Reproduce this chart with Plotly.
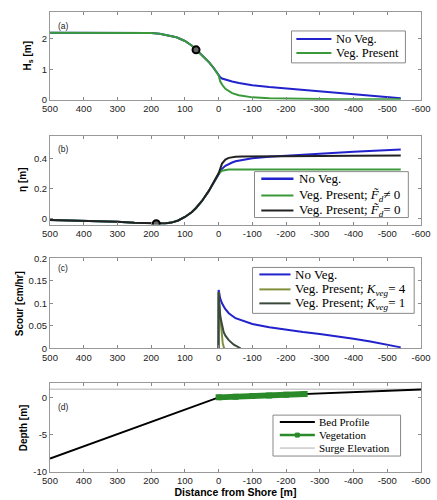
import plotly.graph_objects as go

# ---------------- data ----------------
x_ticks = [500, 400, 300, 200, 100, 0, -100, -200, -300, -400, -500, -600]
x_tick_labels = ["500", "400", "300", "200", "100", "0", "-100", "-200", "-300", "-400", "-500", "-600"]

# (a) significant wave height
x_hs = [500, 400, 300, 250, 200, 175, 150, 125, 100, 80, 67, 50, 30, 15, 0,
        -5, -10, -20, -30, -40, -60, -80, -100, -150, -200, -250, -300, -350, -400, -450, -500, -540]
hs_noveg = [2.2, 2.2, 2.2, 2.2, 2.19, 2.17, 2.12, 2.05, 1.93, 1.78, 1.65, 1.48, 1.25, 1.05, 0.8,
            0.74, 0.7, 0.66, 0.63, 0.6, 0.55, 0.51, 0.48, 0.42, 0.37, 0.32, 0.27, 0.22, 0.17, 0.12, 0.07, 0.05]
hs_veg = [2.2, 2.2, 2.2, 2.2, 2.19, 2.17, 2.12, 2.05, 1.93, 1.78, 1.65, 1.48, 1.25, 1.05, 0.8,
          0.6, 0.5, 0.36, 0.28, 0.22, 0.15, 0.11, 0.08, 0.05, 0.035, 0.03, 0.025, 0.022, 0.02, 0.02, 0.02, 0.02]
hs_mark_x = [67]
hs_mark_y = [1.64]

# (b) setup / mean water level
x_eta = [500, 400, 300, 250, 200, 185, 160, 140, 120, 100, 80, 67, 50, 30, 15, 0,
         -10, -20, -30, -40, -50, -70, -100, -150, -200, -300, -400, -540]
eta_noveg = [-0.01, -0.015, -0.022, -0.028, -0.033, -0.034, -0.033, -0.027, -0.013, 0.01, 0.042, 0.07, 0.115, 0.18, 0.24, 0.3,
             0.33, 0.35, 0.362, 0.372, 0.38, 0.39, 0.4, 0.41, 0.418, 0.43, 0.443, 0.458]
eta_veg_fd = [-0.01, -0.015, -0.022, -0.028, -0.033, -0.034, -0.033, -0.027, -0.013, 0.01, 0.042, 0.07, 0.115, 0.18, 0.24, 0.3,
              0.318, 0.323, 0.325, 0.325, 0.325, 0.325, 0.325, 0.325, 0.325, 0.325, 0.325, 0.325]
eta_veg_f0 = [-0.01, -0.015, -0.022, -0.028, -0.033, -0.034, -0.033, -0.027, -0.013, 0.01, 0.042, 0.07, 0.115, 0.18, 0.24, 0.3,
              0.365, 0.392, 0.403, 0.407, 0.41, 0.412, 0.413, 0.414, 0.415, 0.416, 0.417, 0.418]
eta_mark_x = [185]
eta_mark_y = [-0.034]

# (c) scour rate
x_sc_noveg = [0.5, 0, -5, -10, -19, -30, -50, -75, -100, -150, -200, -250, -300, -350, -400, -450, -500, -540]
sc_noveg = [0, 0.13, 0.11, 0.1, 0.088, 0.078, 0.067, 0.06, 0.054, 0.047, 0.041, 0.036, 0.032, 0.027, 0.021, 0.015, 0.008, 0.002]
x_sc_k4 = [0.5, 0, -3, -6, -9, -12, -15, -17]
sc_k4 = [0, 0.125, 0.085, 0.055, 0.03, 0.012, 0.003, 0]
x_sc_k1 = [0.5, 0, -2, -5, -10, -15, -20, -30, -45, -60, -65]
sc_k1 = [0, 0.125, 0.1, 0.07, 0.05, 0.036, 0.028, 0.018, 0.008, 0.002, 0]

# (d) profile
x_bed = [500, 0, -600]
bed = [-8.2, 0, 1.05]
x_vegzone = [0, -50, -100, -150, -200, -255]
vegzone = [0, 0.0875, 0.175, 0.2625, 0.35, 0.446]
x_surge = [500, -600]
surge = [1.1, 1.1]

# ---------------- colours ----------------
BLUE = "#2222cc"
GREEN = "#3a9a3a"
BLACK = "#222222"
OLIVE = "#808f3c"
DARK = "#3a4a3a"
VEG = "#2a8a2a"
GRAY = "#b0b0b0"

# ---------------- geometry (pixels) ----------------
W, H = 437, 500
L, R, T, B = 50, 6, 11, 28
PW = W - L - R
PH = H - T - B
rows_px = [(11, 99), (135, 224), (258, 348), (383, 472)]


def py2paper(py):
    return (H - B - py) / PH


def px2paper(px):
    return (px - L) / PW


fig = go.Figure()

# (a)
fig.add_trace(go.Scatter(x=x_hs, y=hs_noveg, mode="lines", line=dict(color=BLUE, width=2),
                         xaxis="x", yaxis="y", showlegend=False))
fig.add_trace(go.Scatter(x=x_hs, y=hs_veg, mode="lines", line=dict(color=GREEN, width=2),
                         xaxis="x", yaxis="y", showlegend=False))
fig.add_trace(go.Scatter(x=hs_mark_x, y=hs_mark_y, mode="markers",
                         marker=dict(symbol="circle", size=7, color="#666666", line=dict(color="black", width=2)),
                         xaxis="x", yaxis="y", showlegend=False))
# (b)
fig.add_trace(go.Scatter(x=x_eta, y=eta_noveg, mode="lines", line=dict(color=BLUE, width=2),
                         xaxis="x2", yaxis="y2", showlegend=False))
fig.add_trace(go.Scatter(x=x_eta, y=eta_veg_fd, mode="lines", line=dict(color=GREEN, width=2),
                         xaxis="x2", yaxis="y2", showlegend=False))
fig.add_trace(go.Scatter(x=x_eta, y=eta_veg_f0, mode="lines", line=dict(color=BLACK, width=2),
                         xaxis="x2", yaxis="y2", showlegend=False))
fig.add_trace(go.Scatter(x=eta_mark_x, y=eta_mark_y, mode="markers",
                         marker=dict(symbol="circle", size=7, color="#666666", line=dict(color="black", width=2)),
                         xaxis="x2", yaxis="y2", showlegend=False))
# (c)
fig.add_trace(go.Scatter(x=x_sc_noveg, y=sc_noveg, mode="lines", line=dict(color=BLUE, width=2),
                         xaxis="x3", yaxis="y3", showlegend=False))
fig.add_trace(go.Scatter(x=x_sc_k4, y=sc_k4, mode="lines", line=dict(color=OLIVE, width=2),
                         xaxis="x3", yaxis="y3", showlegend=False))
fig.add_trace(go.Scatter(x=x_sc_k1, y=sc_k1, mode="lines", line=dict(color=DARK, width=2),
                         xaxis="x3", yaxis="y3", showlegend=False))
# (d)
fig.add_trace(go.Scatter(x=x_surge, y=surge, mode="lines", line=dict(color=GRAY, width=1),
                         xaxis="x4", yaxis="y4", showlegend=False))
fig.add_trace(go.Scatter(x=x_bed, y=bed, mode="lines", line=dict(color="black", width=2),
                         xaxis="x4", yaxis="y4", showlegend=False))
fig.add_trace(go.Scatter(x=x_vegzone, y=vegzone, mode="lines+markers", line=dict(color=VEG, width=6),
                         marker=dict(symbol="square", size=6, color=VEG),
                         xaxis="x4", yaxis="y4", showlegend=False))

tickfont = dict(family="Liberation Sans, Arial, sans-serif", size=9.5, color="#222")
titlefont = dict(family="Liberation Sans, Arial, sans-serif", size=10, color="black", weight="bold")

axis_common = dict(range=[500, -600], tickvals=x_ticks, ticktext=x_tick_labels, ticks="inside", ticklen=3,
                   tickcolor="#888", showline=True, linecolor="#999", linewidth=1, mirror="ticks",
                   showgrid=False, zeroline=False, tickfont=tickfont, ticklabeloverflow="allow")

y_specs = [
    dict(range=[0, 2.88], tickvals=[0, 1, 2], ticktext=["0", "1", "2"], title="H<sub>s</sub> [m]", tx=27),
    dict(range=[-0.04, 0.55], tickvals=[0, 0.2, 0.4], ticktext=["0", "0.2", "0.4"], title="η [m]", tx=21),
    dict(range=[0, 0.2], tickvals=[0, 0.05, 0.1, 0.15, 0.2], ticktext=["0", "0.05", "0.1", "0.15", "0.2"],
         title="Scour [cm/hr]", tx=19),
    dict(range=[-10, 1.9], tickvals=[-10, -5, 0], ticktext=["-10", "-5", "0"], title="Depth [m]", tx=23),
]

layout = dict(width=W, height=H, margin=dict(l=L, r=R, t=T, b=B), paper_bgcolor="white",
              plot_bgcolor="white", showlegend=False)

for i, (top, bot) in enumerate(rows_px):
    n = "" if i == 0 else str(i + 1)
    xa = dict(axis_common)
    xa["anchor"] = "y" + n
    xa["domain"] = [0, 1]
    if i == 3:
        xa["title"] = dict(text="Distance from Shore [m]", font=dict(titlefont, size=10.5), standoff=0)
    layout["xaxis" + n] = xa
    s = y_specs[i]
    layout["yaxis" + n] = dict(range=s["range"], tickvals=s["tickvals"], ticktext=s["ticktext"],
                               domain=[py2paper(bot), py2paper(top)], anchor="x" + n,
                               ticks="inside", ticklen=3, tickcolor="#888", showline=True, linecolor="#999",
                               linewidth=1, mirror="ticks", showgrid=False, zeroline=False, tickfont=tickfont)

fig.update_layout(**layout)

# y-axis titles, placed at the panel centres
for i, (top, bot) in enumerate(rows_px):
    s = y_specs[i]
    fig.add_annotation(x=px2paper(s["tx"]), y=py2paper((top + bot) / 2), xref="paper", yref="paper",
                       text=s["title"], textangle=-90, showarrow=False, xanchor="center", yanchor="middle",
                       font=titlefont)

# panel labels
panel_labels = ["(a)", "(b)", "(c)", "(d)"]
panel_label_py = [25, 148, 268, 407]
for lab, py in zip(panel_labels, panel_label_py):
    fig.add_annotation(x=px2paper(56), y=py2paper(py), xref="paper", yref="paper", text=lab, showarrow=False,
                       xanchor="left", yanchor="middle",
                       font=dict(family="Liberation Sans, Arial, sans-serif", size=8.5, color="#222"))

# legends (drawn as boxes, line samples and serif text)
SERIF = "Liberation Serif, Times New Roman, serif"
legends = [
    dict(box=(298, 30, 415, 62), line=(303, 339), text_x=342, font=12.5,
         items=[("No Veg.", BLUE, 2, None, 38), ("Veg. Present", GREEN, 2, None, 52)]),
    dict(box=(260, 171, 418, 217), line=(267, 300), text_x=304, font=13,
         items=[("No Veg.", BLUE, 2.5, None, 178),
                ("Veg. Present; <i>F̃<sub>d</sub></i>≠ 0", GREEN, 2, None, 195),
                ("Veg. Present; <i>F̃<sub>d</sub></i>= 0", BLACK, 2, None, 210)]),
    dict(box=(258, 267, 424, 313), line=(265, 297), text_x=300, font=13,
         items=[("No Veg.", BLUE, 2, None, 274),
                ("Veg. Present; <i>K<sub>veg</sub></i>= 4", OLIVE, 2, None, 289),
                ("Veg. Present; <i>K<sub>veg</sub></i>= 1", DARK, 2, None, 303)]),
    dict(box=(279, 415, 410, 456), line=(286, 322), text_x=324, font=11,
         items=[("Bed Profile", "black", 2, None, 422),
                ("Vegetation", VEG, 2.5, "square", 435),
                ("Surge Elevation", GRAY, 1, None, 448)]),
]
for lg in legends:
    x0, y0, x1, y1 = lg["box"]
    fig.add_shape(type="rect", xref="paper", yref="paper", x0=px2paper(x0), x1=px2paper(x1),
                  y0=py2paper(y1), y1=py2paper(y0), line=dict(color="#888", width=1), fillcolor="white",
                  layer="above")
    lx0, lx1 = lg["line"]
    for label, col, w, mk, py in lg["items"]:
        fig.add_shape(type="line", xref="paper", yref="paper", x0=px2paper(lx0), x1=px2paper(lx1),
                      y0=py2paper(py), y1=py2paper(py), line=dict(color=col, width=w), layer="above")
        if mk:
            cx = (lx0 + lx1) / 2
            fig.add_shape(type="rect", xref="paper", yref="paper", x0=px2paper(cx - 2), x1=px2paper(cx + 2),
                          y0=py2paper(py + 2), y1=py2paper(py - 2), line=dict(color=col, width=1),
                          fillcolor=col, layer="above")
        fig.add_annotation(x=px2paper(lg["text_x"]), y=py2paper(py), xref="paper", yref="paper", text=label,
                           showarrow=False, xanchor="left", yanchor="middle",
                           font=dict(family=SERIF, size=lg["font"], color="black"))

fig.write_html("out.html", config={"displayModeBar": False},
               post_script="document.body.style.margin='0px';document.body.style.overflow='hidden';")
